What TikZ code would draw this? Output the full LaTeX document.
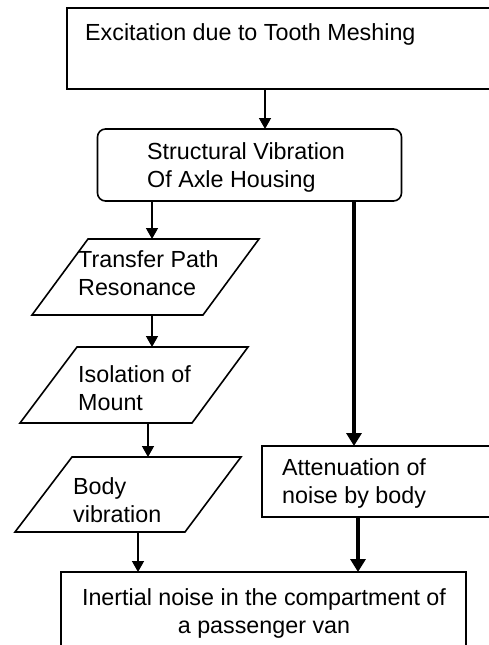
\documentclass[tikz,border=0pt]{standalone}
\usepackage{fontspec}
\setmainfont{Liberation Sans}
\usetikzlibrary{arrows.meta}
\begin{document}
\begin{tikzpicture}[x=1pt,y=-1pt,
  box/.style={draw,line width=1.6pt,rectangle,inner sep=0pt,outer sep=0pt},
  rbox/.style={box,rounded corners=8pt},
  para/.style={draw,line width=1.6pt,line join=miter},
  arr/.style={line width=1.5pt,-{Triangle[length=11pt,width=12pt]}},
  thickarr/.style={line width=4.5pt,-{Triangle[length=13pt,width=15pt]}},
  lbl/.style={inner sep=0pt,anchor=base west},
  clbl/.style={inner sep=0pt,anchor=base},
  font=\fontsize{23.3}{28}\selectfont]
\useasboundingbox (0,0) rectangle (489,645);
\clip (0,0) rectangle (489,645);

% boxes
\node[box,anchor=north west,minimum width=440pt,minimum height=81pt] (exc) at (67,8) {};
\node[rbox,anchor=north west,minimum width=304pt,minimum height=72pt] (sv) at (97.5,129) {};
\node[box,anchor=north west,minimum width=240pt,minimum height=71pt] (att) at (262,446) {};
\node[box,anchor=north west,minimum width=405pt,minimum height=100pt] (inn) at (61,572) {};

% parallelograms
\coordinate (p1bl) at (32,315);  \coordinate (p1br) at (203,315);
\coordinate (p1tr) at (259,239); \coordinate (p1tl) at (88,239);
\coordinate (p2bl) at (20,423);  \coordinate (p2br) at (192,423);
\coordinate (p2tr) at (248,347); \coordinate (p2tl) at (77,347);
\coordinate (p3bl) at (15,532);  \coordinate (p3br) at (185,532);
\coordinate (p3tr) at (241,457); \coordinate (p3tl) at (72,457);
\draw[para] (p1bl) -- (p1br) -- (p1tr) -- (p1tl) -- cycle;
\draw[para] (p2bl) -- (p2br) -- (p2tr) -- (p2tl) -- cycle;
\draw[para] (p3bl) -- (p3br) -- (p3tr) -- (p3tl) -- cycle;

% texts
\node[lbl] (texc) at (85,40) {Excitation due to Tooth Meshing};
\node[lbl] (tsv) at (147,159) {\begin{tabular}[t]{@{}l@{}}Structural Vibration\\Of Axle Housing\end{tabular}};
\node[lbl] (tp1) at (78,267) {\begin{tabular}[t]{@{}l@{}}Transfer Path\\Resonance\end{tabular}};
\node[lbl] (tp2) at (78,382) {\begin{tabular}[t]{@{}l@{}}Isolation of\\Mount\end{tabular}};
\node[lbl] (tp3) at (73,494) {\begin{tabular}[t]{@{}l@{}}Body\\vibration\end{tabular}};
\node[lbl] (tatt) at (282,475) {\begin{tabular}[t]{@{}l@{}}Attenuation of\\noise by body\end{tabular}};
\node[clbl] (tinn) at (264,605) {\begin{tabular}[t]{@{}c@{}}Inertial noise in the compartment of\\a passenger van\end{tabular}};

% connector x positions
\coordinate (x1) at (265,0);
\coordinate (x2) at (152,0);
\coordinate (x3) at (152,0);
\coordinate (x4) at (148,0);
\coordinate (x5) at (138,0);
\coordinate (x6) at (354,0);
\coordinate (x7) at (358,0);

\draw[arr] (exc.south -| x1) -- (sv.north -| x1);
\draw[arr] (sv.south -| x2) -- (p1tl -| x2);
\draw[arr] (p1bl -| x3) -- (p2tl -| x3);
\draw[arr] (p2bl -| x4) -- (p3tl -| x4);
\draw[arr] (p3bl -| x5) -- (inn.north -| x5);
\draw[thickarr] (sv.south -| x6) -- (att.north -| x6);
\draw[thickarr] (att.south -| x7) -- (inn.north -| x7);
\end{tikzpicture}
\end{document}
